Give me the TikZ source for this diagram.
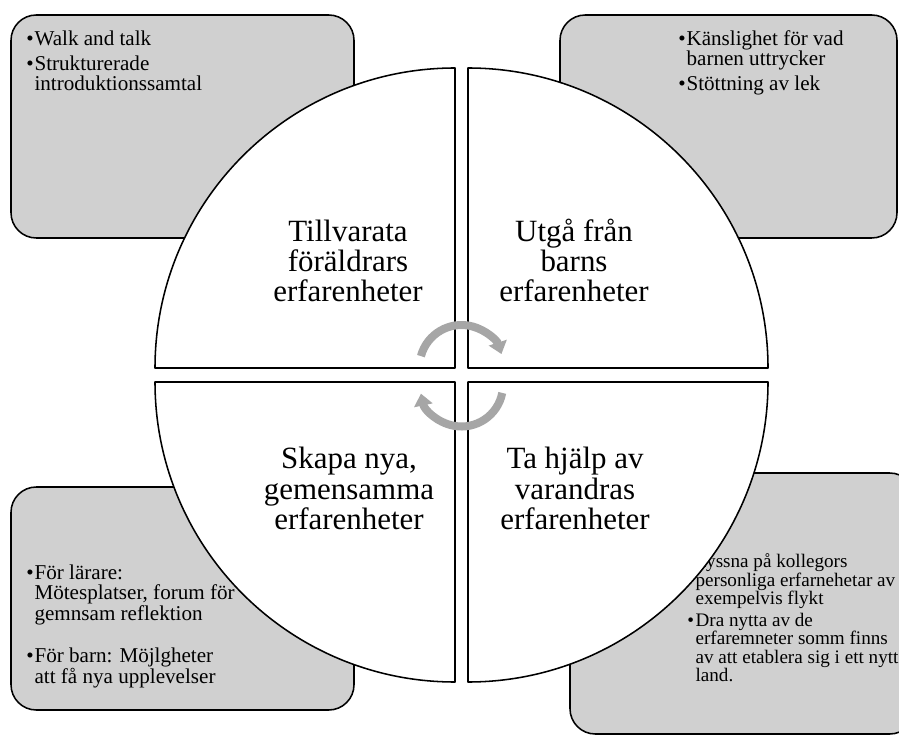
\documentclass[tikz,border=0pt]{standalone}
\usepackage{fontspec}
\setmainfont{Liberation Serif}
\usetikzlibrary{arrows.meta}
\definecolor{boxGray}{HTML}{D0D0D0}
\definecolor{arrowGray}{HTML}{A6A6A6}
\newcommand{\bul}{\makebox[5.9pt][l]{\textbullet}}
\newcommand{\ind}{\hspace*{5.9pt}}

\begin{document}
\begin{tikzpicture}[x=0.025cm,y=0.025cm,line join=round,
    sidebox/.style={draw=black,line width=1.1pt,fill=boxGray,rounded corners=18pt},
    quad/.style={draw=black,line width=1.1pt,fill=white},
    bigtxt/.style={align=center,inner sep=0pt,anchor=base,font=\fontsize{22}{21.5}\selectfont},
    listtxt/.style={align=left,inner sep=0pt,anchor=base west,font=\fontsize{15}{14.7}\selectfont},
    cyclearrow/.style={draw=arrowGray,line width=5.7pt,-{Triangle[width=13pt,length=8.5pt]}}]
  \useasboundingbox (0,0) rectangle (899,738);
  \clip (0,0) rectangle (899,738);
  % grey boxes in the corners
  \draw[sidebox] (11,500) rectangle (354,723);
  \draw[sidebox] (560,500) rectangle (897,723);
  \draw[sidebox] (11,28) rectangle (354,251);
  \draw[sidebox] (570,4) rectangle (915,265);
  % box texts (node base = last line)
  \node[listtxt] (tlList) at (26,647.3)
     {\bul Walk and talk\\[3pt]\bul Strukturerade\\\ind introduktionssamtal};
  \node[listtxt] (trList) at (678,647.3)
     {\bul Känslighet för vad\\\ind barnen uttrycker\\[3pt]\bul Stöttning av lek};
  \node[listtxt] (blList) at (26,55)
     {\bul För lärare:\\\ind Mötesplatser, forum för\\\ind gemnsam reflektion\\[15pt]
      \bul För barn: Möjlgheter\\\ind att få nya upplevelser};
  \node[listtxt,font=\fontsize{13.6}{13.1}\selectfont] (brList) at (687,56.3)
     {\bul Lyssna på kollegors\\\ind personliga erfarnehetar av\\\ind exempelvis flykt\\[2.3pt]
      \bul Dra nytta av de\\\ind erfaremneter somm finns\\\ind av att etablera sig i ett nytt\\\ind land.};
  % four quarter discs
  \draw[quad] (455,370) -- ++(-300,0) arc[start angle=180,end angle=90,radius=300] -- cycle;
  \draw[quad] (468,370) -- ++(0,300) arc[start angle=90,end angle=0,radius=300] -- cycle;
  \draw[quad] (468,356) -- ++(300,0) arc[start angle=0,end angle=-90,radius=300] -- cycle;
  \draw[quad] (455,356) -- ++(0,-300) arc[start angle=270,end angle=180,radius=300] -- cycle;
  % quadrant labels
  \node[bigtxt] (tlLabel) at (348,436.3) {Tillvarata\\föräldrars\\erfarenheter};
  \node[bigtxt] (trLabel) at (574,436.3) {Utgå från\\barns\\erfarenheter};
  \node[bigtxt] (blLabel) at (349,208.7) {Skapa nya,\\gemensamma\\erfarenheter};
  \node[bigtxt] (brLabel) at (575,208.7) {Ta hjälp av\\varandras\\erfarenheter};
  % cycle arrows in the middle
  \draw[cyclearrow] (461.5,371) ++(165:42) arc[start angle=165,end angle=18,radius=42];
  \draw[cyclearrow] (461.5,353) ++(-11:41.5) arc[start angle=-11,end angle=-168,radius=41.5];
\end{tikzpicture}
\end{document}
